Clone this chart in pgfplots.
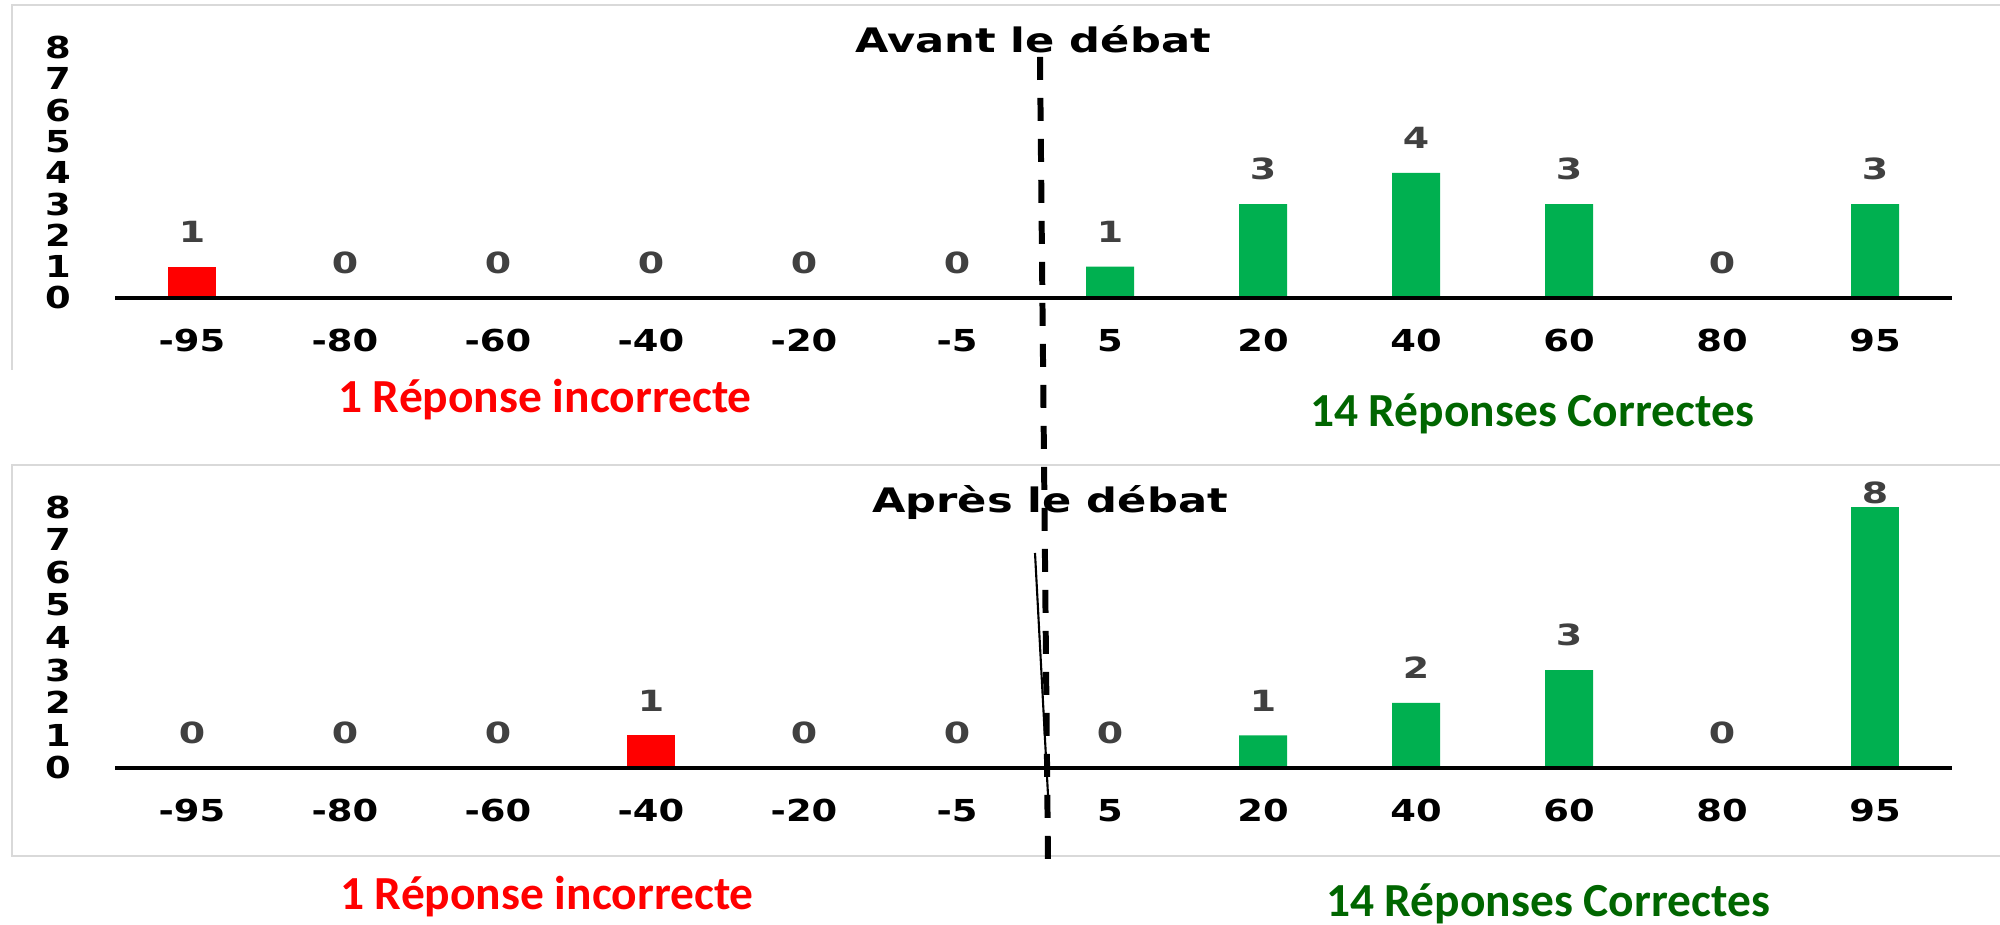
\documentclass[border=0pt]{standalone}
\usepackage{pgfplots}
\pgfplotsset{compat=1.18}
\usepackage{fontspec}
\setmainfont{DejaVu Sans}
\newfontfamily\tickfont{DejaVu Sans}[FakeStretch=1.22]
\newfontfamily\lblfont{DejaVu Sans}[FakeStretch=1.3]
\newfontfamily\titlefont{DejaVu Sans}[FakeStretch=1.28]
\newfontfamily\calfont{Carlito}
\definecolor{barred}{HTML}{FF0000}
\definecolor{bargreen}{HTML}{00B050}
\definecolor{txtgreen}{HTML}{006600}
\definecolor{lblgray}{HTML}{404040}
\definecolor{framegray}{HTML}{D9D9D9}

\pgfplotsset{
  panel/.style={
    scale only axis, width=18.36cm,
    xmin=-0.5, xmax=11.5, ymin=0, ymax=8,
    axis line style={draw=none},
    major tick length=0pt,
    xtick={0,...,11},
    xticklabels={-95,-80,-60,-40,-20,-5,5,20,40,60,80,95},
    ytick={0,...,8},
    /pgf/number format/assume math mode=true,
    xticklabel style={anchor=center, yshift=-0.43cm, font=\tickfont\bfseries\fontsize{8.6}{10}\selectfont},
    yticklabel style={anchor=center, xshift=-0.575cm, font=\tickfont\bfseries\fontsize{8.6}{10}\selectfont},
    ybar, bar width=0.48cm, bar shift=0pt,
    clip=false,
    nodes near coords,
    nodes near coords align={center},
    every node near coord/.append style={yshift=0.35cm, font=\lblfont\bfseries\fontsize{8.3}{10}\selectfont, text=lblgray},
  }
}

\begin{document}
\begin{tikzpicture}
\useasboundingbox (0,0) rectangle (20,9.25);
% panel frames
\draw[framegray, line width=0.6pt] (0.12,5.55) -- (0.12,9.20) -- (20,9.20);
\draw[framegray, line width=0.6pt] (20,4.60) -- (0.12,4.60) -- (0.12,0.69) -- (20,0.69);

% top panel: Avant le debat
\begin{axis}[panel, height=2.504cm, at={(1.155cm,6.27cm)}, anchor=south west]
\addplot[fill=barred, draw=none] coordinates {(0,1)};
\addplot[fill=bargreen, draw=none] coordinates {(1,0) (2,0) (3,0) (4,0) (5,0) (6,1) (7,3) (8,4) (9,3) (10,0) (11,3)};
\draw[line width=0.9pt] (axis cs:-0.5,0) -- (axis cs:11.5,0);
\end{axis}

% bottom panel: Apres le debat
\begin{axis}[panel, height=2.608cm, at={(1.155cm,1.57cm)}, anchor=south west]
\addplot[fill=barred, draw=none] coordinates {(3,1)};
\addplot[fill=bargreen, draw=none] coordinates {(0,0) (1,0) (2,0) (4,0) (5,0) (6,0) (7,1) (8,2) (9,3) (10,0)};
\addplot[fill=bargreen, draw=none, every node near coord/.append style={yshift=-0.21cm}] coordinates {(11,8)};
\draw[line width=0.9pt] (axis cs:-0.5,0) -- (axis cs:11.5,0);
\end{axis}

% titles
\node[anchor=base, font=\titlefont\bfseries\fontsize{9.6}{11}\selectfont] at (10.33,8.72) {Avant le débat};
\node[anchor=base, font=\titlefont\bfseries\fontsize{9.6}{11}\selectfont] at (10.50,4.12) {Après le débat};

% captions
\node[anchor=base, text=barred, font=\calfont\bfseries\fontsize{13.5}{16}\selectfont] at (5.45,5.12) {1 Réponse incorrecte};
\node[anchor=base, text=txtgreen, font=\calfont\bfseries\fontsize{13.5}{16}\selectfont] at (15.32,4.98) {14 Réponses Correctes};
\node[anchor=base, text=barred, font=\calfont\bfseries\fontsize{13.5}{16}\selectfont] at (5.47,0.15) {1 Réponse incorrecte};
\node[anchor=base, text=txtgreen, font=\calfont\bfseries\fontsize{13.5}{16}\selectfont] at (15.48,0.08) {14 Réponses Correctes};

% divider lines
\draw[line width=0.6pt] (10.35,3.72) -- (10.48,1.30);
\draw[line width=1.7pt, dash pattern=on 0.23cm off 0.18cm] (10.40,8.68) -- (10.48,0.63);
\end{tikzpicture}
\end{document}
